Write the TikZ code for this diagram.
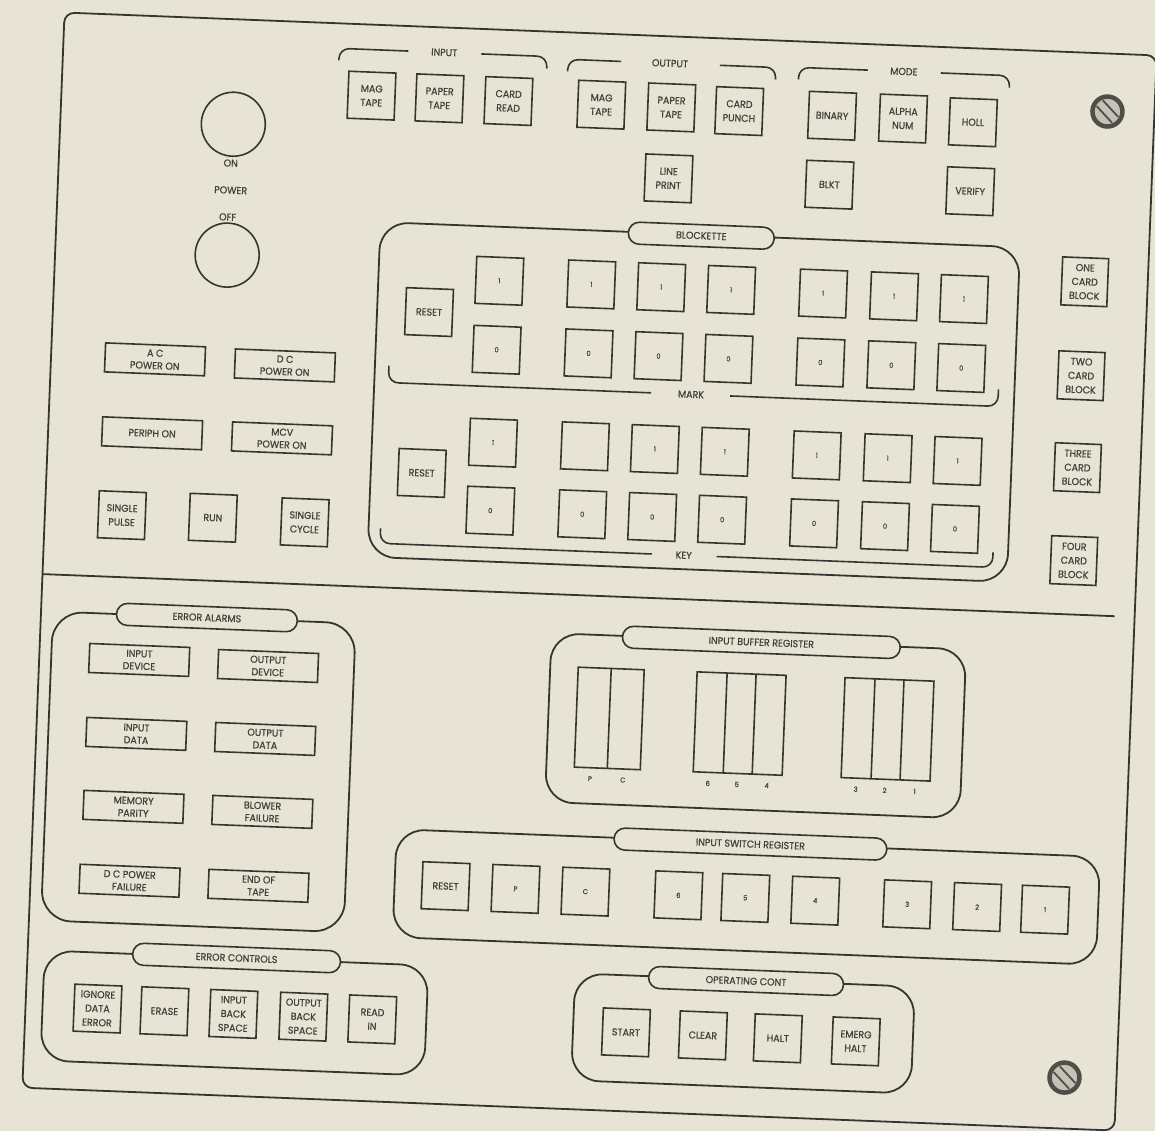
\documentclass[tikz,border=0pt]{standalone}
\usepackage{fontspec}
\setmainfont{Poppins}[FakeStretch=0.95,FakeBold=0.6]
\definecolor{panelbg}{RGB}{231,228,213}
\definecolor{ink}{RGB}{55,53,48}
\definecolor{inktext}{RGB}{66,64,58}
\definecolor{screwgray}{RGB}{80,78,72}
\definecolor{screwface}{RGB}{196,193,182}
\newcommand\panelfont{\fontsize{10}{14}\selectfont}
\newcommand\lampfont{\fontsize{10}{12.5}\selectfont}
\newcommand\bitfont{\fontsize{7}{8}\selectfont}

\begin{document}
\begin{tikzpicture}[x=1pt,y=-1pt,
  keybtn/.style={draw=ink,line width=1.6pt,minimum width=47pt,minimum height=47pt,inner sep=0pt,align=center,text=inktext,font=\panelfont},
  bitbtn/.style={keybtn,font=\bitfont},
  lampbox/.style={draw=ink,line width=1.6pt,minimum width=100pt,minimum height=29pt,inner sep=0pt,align=center,text=inktext,font=\lampfont},
  titlepill/.style={draw=ink,fill=panelbg,line width=1.6pt,rounded corners=11pt,minimum height=22pt,inner sep=0pt,text=inktext,font=\panelfont},
  panelbox/.style={draw=ink,line width=1.8pt,rounded corners=28pt},
  caption/.style={inner sep=1pt,text=inktext,font=\panelfont},
  brace/.style={draw=ink,line width=1.6pt,rounded corners=10pt},
]
\useasboundingbox (0,0) rectangle (1155,1131);
\fill[panelbg] (0,0) rectangle (1155,1131);
\begin{scope}[rotate=-2.25,transform shape]
% panel outline and divider
\draw[ink,line width=1.8pt,rounded corners=10pt] (65,10) rectangle (1158,1086);
\draw[ink,line width=1.8pt] (65,572) -- (1138,572);
% screws
\foreach \sx/\sy in {1111/68,1106/1035} {
  \fill[screwface] (\sx,\sy) circle (15pt);
  \draw[screwgray,line width=4.5pt] (\sx,\sy) circle (15pt);
  \draw[screwgray,line width=1.8pt] (\sx-11,\sy-5) -- (\sx+5,\sy+11);
  \draw[screwgray,line width=1.8pt] (\sx-5,\sy-11) -- (\sx+11,\sy+5);
}
% power switch
\node[draw=ink,line width=1.6pt,circle,minimum size=64pt] (pwr-on) at (238,115) {};
\node[caption] (lbl-on) at (237,154) {ON};
\node[caption] (lbl-power) at (238,181) {POWER};
\node[caption] (lbl-off) at (236,208) {OFF};
\node[draw=ink,line width=1.6pt,circle,minimum size=64pt] (pwr-off) at (237,246) {};
% input, output, mode
\node[caption] (lbl-input) at (446,35) {INPUT};
\draw[brace] (341,47) -- (341,35) -- (410,35);
\draw[brace] (483,35) -- (549,35) -- (549,47);
\node[keybtn] (in-mag) at (375,81) {MAG\\TAPE};
\node[keybtn] (in-paper) at (443,81) {PAPER\\TAPE};
\node[keybtn] (in-card) at (512,81) {CARD\\READ};
\node[caption] (lbl-output) at (672,37) {OUTPUT};
\draw[brace] (570,49) -- (570,37) -- (623,37);
\draw[brace] (722,37) -- (778,37) -- (778,49);
\node[keybtn] (out-mag) at (605,81) {MAG\\TAPE};
\node[keybtn] (out-paper) at (675,81) {PAPER\\TAPE};
\node[keybtn] (out-card) at (743,82) {CARD\\PUNCH};
\node[keybtn] (out-line) at (675,152) {LINE\\PRINT};
\node[caption] (lbl-mode) at (906,36) {MODE};
\draw[brace] (801,48) -- (801,36) -- (870,36);
\draw[brace] (943,36) -- (1012,36) -- (1012,48);
\node[keybtn] (md-binary) at (836,83) {BINARY};
\node[keybtn] (md-alpha) at (907,83) {ALPHA\\NUM};
\node[keybtn] (md-holl) at (977,84) {HOLL};
\node[keybtn] (md-blkt) at (836,152) {BLKT};
\node[keybtn] (md-verify) at (977,153) {VERIFY};
% power lamps and step keys
\node[lampbox] (lp-ac) at (169,353) {A C\\POWER ON};
\node[lampbox] (lp-dc) at (299,354) {D C\\POWER ON};
\node[lampbox] (lp-periph) at (169,427) {PERIPH ON};
\node[lampbox] (lp-mcv) at (299,427) {MCV\\POWER ON};
\node[keybtn] (st-pulse) at (142,510) {SINGLE\\PULSE};
\node[keybtn] (st-run) at (233,509) {RUN};
\node[keybtn] (st-cycle) at (325,510) {SINGLE\\CYCLE};
% blockette, mark and key
\draw[panelbox] (389,207) rectangle (1029,542);
\node[titlepill,minimum width=146pt] (ttl-blockette) at (710,208) {BLOCKETTE};
\node[keybtn] (mk-reset) at (441,295) {RESET};
\node[keybtn] (ky-reset) at (440,456) {RESET};
\foreach \c/\x in {1/510,2/602,3/672,4/742,5/834,6/905,7/975} {
  \node[bitbtn] (mk1-\c) at (\x,261) {1};
  \node[bitbtn] (mk0-\c) at (\x,330) {0};
  \node[bitbtn] (ky1-\c) at (\x,423) {\ifnum\c=2 \else 1\fi};
  \node[bitbtn] (ky0-\c) at (\x,491) {0};
}
\node[caption] (lbl-mark) at (706,367) {MARK};
\draw[brace] (403,350) -- (403,367) -- (666,367);
\draw[brace] (745,367) -- (1013,367) -- (1013,350);
\node[caption] (lbl-key) at (705,528) {KEY};
\draw[brace] (401,513) -- (401,528) -- (673,528);
\draw[brace] (738,528) -- (1014,528) -- (1014,513);
% card block keys
\node[keybtn,minimum width=46pt,minimum height=48pt] (cb-one) at (1095,239) {ONE\\CARD\\BLOCK};
\node[keybtn,minimum width=46pt,minimum height=48pt] (cb-two) at (1095,333) {TWO\\CARD\\BLOCK};
\node[keybtn,minimum width=46pt,minimum height=48pt] (cb-three) at (1095,425) {THREE\\CARD\\BLOCK};
\node[keybtn,minimum width=46pt,minimum height=48pt] (cb-four) at (1095,518) {FOUR\\CARD\\BLOCK};
% error alarms
\draw[panelbox,rounded corners=30pt] (77,609) rectangle (380,918);
\node[titlepill,minimum width=181pt] (ttl-alarms) at (231,609) {ERROR ALARMS};
\node[lampbox] (ea-indev) at (165,654) {INPUT\\DEVICE};
\node[lampbox] (ea-outdev) at (294,655) {OUTPUT\\DEVICE};
\node[lampbox] (ea-indata) at (165,728) {INPUT\\DATA};
\node[lampbox] (ea-outdata) at (294,728) {OUTPUT\\DATA};
\node[lampbox] (ea-parity) at (165,801) {MEMORY\\PARITY};
\node[lampbox] (ea-blower) at (294,801) {BLOWER\\FAILURE};
\node[lampbox] (ea-dcfail) at (164,875) {D C POWER\\FAILURE};
\node[lampbox] (ea-tape) at (293,875) {END OF\\TAPE};
% error controls
\draw[panelbox] (82,948) rectangle (466,1058);
\node[titlepill,minimum width=208pt] (ttl-controls) at (274,948) {ERROR CONTROLS};
\node[keybtn] (ec-ignore) at (137,1004) {IGNORE\\DATA\\ERROR};
\node[keybtn] (ec-erase) at (204,1004) {ERASE};
\node[keybtn] (ec-inback) at (273,1004) {INPUT\\BACK\\SPACE};
\node[keybtn] (ec-outback) at (343,1004) {OUTPUT\\BACK\\SPACE};
\node[keybtn] (ec-read) at (412,1004) {READ\\IN};
% input buffer register
\draw[panelbox] (576,611) rectangle (991,780);
\node[titlepill,minimum width=278pt] (ttl-buffer) at (786,612) {INPUT BUFFER REGISTER};
\draw[ink,line width=1.6pt] (604,644) rectangle (670,744) (637,644) -- (637,744);
\draw[ink,line width=1.6pt] (723,644) rectangle (812,744) (753,644) -- (753,744) (782,644) -- (782,744);
\draw[ink,line width=1.6pt] (871,644) rectangle (960,744) (901,644) -- (901,744) (930,644) -- (930,744);
\node[caption,font=\bitfont] (ib-p) at (620,755) {P};
\node[caption,font=\bitfont] (ib-c) at (653,755) {C};
\node[caption,font=\bitfont] (ib-6) at (738,755) {6};
\node[caption,font=\bitfont] (ib-5) at (767,755) {5};
\node[caption,font=\bitfont] (ib-4) at (797,755) {4};
\node[caption,font=\bitfont] (ib-3) at (886,755) {3};
\node[caption,font=\bitfont] (ib-2) at (915,755) {2};
\node[caption,font=\bitfont] (ib-1) at (945,755) {1};
% input switch register
\draw[panelbox] (429,813) rectangle (1133,921);
\node[titlepill,minimum width=273pt] (ttl-switch) at (783,814) {INPUT SWITCH REGISTER};
\node[keybtn] (sw-reset) at (480,868) {RESET};
\node[bitbtn] (sw-p) at (550,868) {P};
\node[bitbtn] (sw-c) at (620,868) {C};
\node[bitbtn] (sw-6) at (713,868) {6};
\node[bitbtn] (sw-5) at (780,868) {5};
\node[bitbtn] (sw-4) at (850,868) {4};
\node[bitbtn] (sw-3) at (942,868) {3};
\node[bitbtn] (sw-2) at (1012,868) {2};
\node[bitbtn] (sw-1) at (1080,868) {1};
% operating controls
\draw[panelbox] (613,950) rectangle (953,1057);
\node[titlepill,minimum width=195pt] (ttl-operating) at (784,951) {OPERATING CONT};
\node[keybtn] (op-start) at (666,1007) {START};
\node[keybtn] (op-clear) at (743,1007) {CLEAR};
\node[keybtn] (op-halt) at (818,1007) {HALT};
\node[keybtn] (op-emerg) at (896,1007) {EMERG\\HALT};
\end{scope}
\end{tikzpicture}
\end{document}
